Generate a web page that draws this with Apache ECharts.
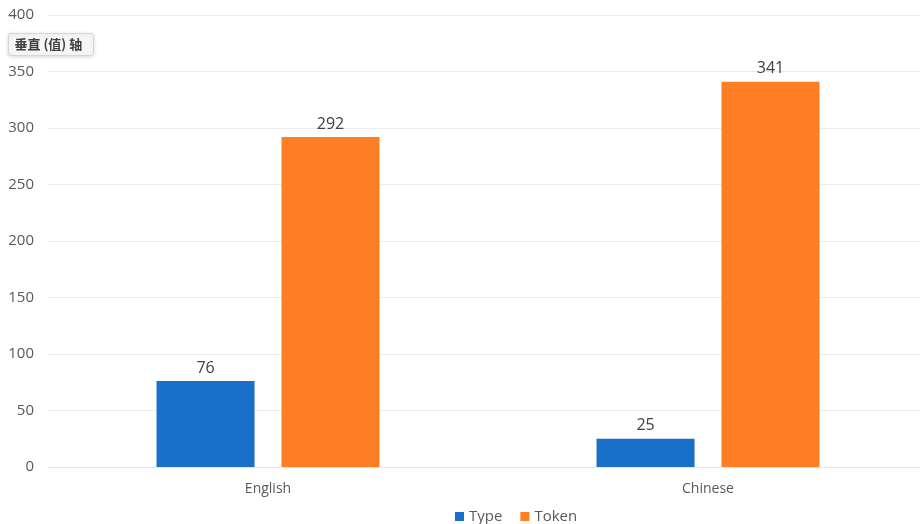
<!DOCTYPE html>
<html><head><meta charset="utf-8">
<script src="https://cdn.jsdelivr.net/npm/echarts@6/dist/echarts.min.js"></script>
<style>html,body{margin:0;padding:0;background:#fff;overflow:hidden;width:920px;height:524px}#c{width:928px;height:524px}</style>
</head><body><div id="c"></div>
<script>
const categories = ['English', 'Chinese'];
const typeValues = [76, 25];
const tokenValues = [292, 341];
const yTicks = {min: 0, max: 400, interval: 50};

const chart = echarts.init(document.getElementById('c'), null, {renderer: 'canvas'});
const font = '"Open Sans", "Noto Sans", sans-serif';
chart.setOption({
  animation: false,
  textStyle: {fontFamily: font},
  grid: {left: 48, right: 0, top: 15, bottom: 57, containLabel: false},
  legend: {
    top: 504, left: 450, itemWidth: 9, itemHeight: 9, itemGap: 18,
    icon: 'rect',
    textStyle: {fontSize: 15, color: '#595959', fontFamily: font}
  },
  xAxis: {
    type: 'category', data: categories,
    axisLine: {lineStyle: {color: '#e6e6e6'}},
    axisTick: {show: false},
    axisLabel: {fontSize: 14, color: '#595959', margin: 15, fontFamily: font}
  },
  yAxis: {
    type: 'value', min: yTicks.min, max: yTicks.max, interval: yTicks.interval,
    axisLine: {show: false}, axisTick: {show: false},
    splitLine: {lineStyle: {color: '#ebebeb'}},
    axisLabel: {fontSize: 15, color: '#595959', margin: 14, fontFamily: font}
  },
  series: [
    {name: 'Type', type: 'bar', data: typeValues, barWidth: 98, barGap: '27.5%',
     itemStyle: {color: '#1a70c8'},
     label: {show: true, position: 'top', fontSize: 16, color: '#404040', distance: 5, fontFamily: font}},
    {name: 'Token', type: 'bar', data: tokenValues, barWidth: 98,
     itemStyle: {color: '#fd7e23'},
     label: {show: true, position: 'top', fontSize: 16, color: '#404040', distance: 5, fontFamily: font}}
  ],
  graphic: [{
    type: 'group', left: 8, top: 33,
    children: [
      {type: 'rect', shape: {x: 0, y: 0, width: 85, height: 22, r: 2},
       style: {fill: '#f7f7f7', stroke: '#d6d6d6', lineWidth: 1, shadowBlur: 4, shadowColor: 'rgba(0,0,0,0.15)', shadowOffsetY: 1}},
      {type: 'text', left: 6, top: 4,
       style: {text: '垂直 (值) 轴', fontSize: 13, fontWeight: 'bold', fill: '#404040', fontFamily: '"Noto Sans CJK SC", sans-serif'}}
    ]
  }]
});
</script></body></html>
